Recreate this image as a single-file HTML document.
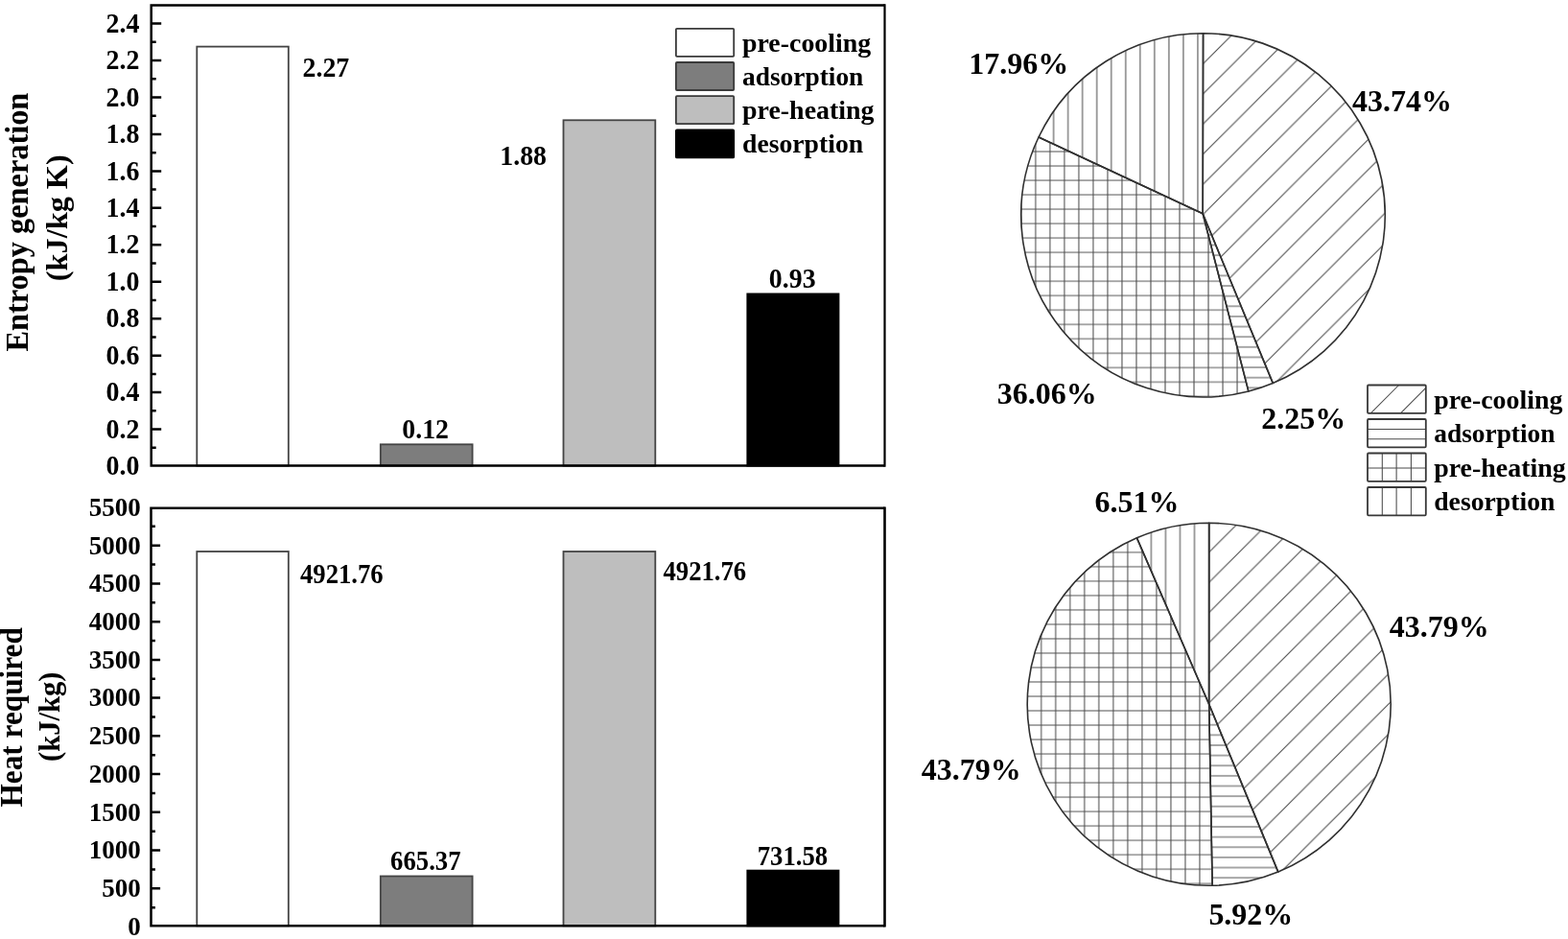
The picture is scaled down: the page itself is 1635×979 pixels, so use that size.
<!DOCTYPE html>
<html lang="en"><head><meta charset="utf-8"><title>Entropy generation and heat required</title>
<style>
html,body{margin:0;padding:0;background:#fff;}
body{width:1635px;height:979px;overflow:hidden;}
svg{display:block;}
</style></head><body>
<svg width="1635" height="979" viewBox="0 0 1635 979" font-family='"Liberation Serif", serif' font-weight="bold" fill="#000">
<defs>
<pattern id="hDiag1" patternUnits="userSpaceOnUse" width="31.4" height="31.4" patternTransform="translate(1321 0)">
<path d="M-2 2 L2 -2 M-2 33.4 L33.4 -2 M29.4 33.4 L33.4 29.4" stroke="#4a4a4a" stroke-width="1.05" fill="none"/>
</pattern>
<pattern id="hHor1" patternUnits="userSpaceOnUse" width="20" height="10.63" patternTransform="translate(0 287.4)">
<path d="M0 0 H20 M0 10.63 H20" stroke="#4a4a4a" stroke-width="1.05"/>
</pattern>
<pattern id="hGrid1" patternUnits="userSpaceOnUse" width="15.02" height="15.02" patternTransform="translate(1079.8 203.1)">
<path d="M0 0 H15.02 M0 15.02 H15.02 M0 0 V15.02 M15.02 0 V15.02" stroke="#4a4a4a" stroke-width="1.05" fill="none"/>
</pattern>
<pattern id="hVer1" patternUnits="userSpaceOnUse" width="15.03" height="20" patternTransform="translate(1248.9 0)">
<path d="M0 0 V20 M15.03 0 V20" stroke="#4a4a4a" stroke-width="1.05"/>
</pattern>
<pattern id="hDiag2" patternUnits="userSpaceOnUse" width="31.4" height="31.4" patternTransform="translate(1334.1 0)">
<path d="M-2 2 L2 -2 M-2 33.4 L33.4 -2 M29.4 33.4 L33.4 29.4" stroke="#4a4a4a" stroke-width="1.05" fill="none"/>
</pattern>
<pattern id="hHor2" patternUnits="userSpaceOnUse" width="20" height="10.63" patternTransform="translate(0 288.0)">
<path d="M0 0 H20 M0 10.63 H20" stroke="#4a4a4a" stroke-width="1.05"/>
</pattern>
<pattern id="hGrid2" patternUnits="userSpaceOnUse" width="15.02" height="15.02" patternTransform="translate(1085.7 200.3)">
<path d="M0 0 H15.02 M0 15.02 H15.02 M0 0 V15.02 M15.02 0 V15.02" stroke="#4a4a4a" stroke-width="1.05" fill="none"/>
</pattern>
<pattern id="hVer2" patternUnits="userSpaceOnUse" width="15.03" height="20" patternTransform="translate(1245.5 0)">
<path d="M0 0 V20 M15.03 0 V20" stroke="#4a4a4a" stroke-width="1.05"/>
</pattern>
</defs>
<rect width="1635" height="979" fill="#fff"/>
<rect x="205.30" y="48.60" width="95.50" height="437.00" fill="#ffffff" stroke="#444" stroke-width="1.8"/>
<rect x="396.80" y="463.30" width="95.80" height="22.30" fill="#7d7d7d" stroke="#444" stroke-width="1.8"/>
<rect x="587.50" y="125.30" width="95.80" height="360.30" fill="#bebebe" stroke="#444" stroke-width="1.8"/>
<rect x="779.30" y="306.40" width="95.20" height="179.20" fill="#000000" stroke="#000" stroke-width="1.8"/>
<path d="M922.5 5.6H157.7V485.6H922.5" fill="none" stroke="#000" stroke-width="2.5" stroke-linejoin="miter"/>
<path d="M922.5 4.35V486.85" fill="none" stroke="#000" stroke-width="2.2"/>
<path d="M157.7 466.77h5.0M157.7 447.55h10.5M157.7 428.32h5.0M157.7 409.10h10.5M157.7 389.88h5.0M157.7 370.65h10.5M157.7 351.42h5.0M157.7 332.20h10.5M157.7 312.97h5.0M157.7 293.75h10.5M157.7 274.52h5.0M157.7 255.30h10.5M157.7 236.07h5.0M157.7 216.85h10.5M157.7 197.62h5.0M157.7 178.40h10.5M157.7 159.17h5.0M157.7 139.95h10.5M157.7 120.72h5.0M157.7 101.50h10.5M157.7 82.28h5.0M157.7 63.05h10.5M157.7 43.82h5.0M157.7 24.60h10.5" stroke="#000" stroke-width="2.5" fill="none"/>
<text transform="translate(145.40 495.10) scale(0.925 1)" font-size="30.2" text-anchor="end">0.0</text>
<text transform="translate(145.40 456.65) scale(0.925 1)" font-size="30.2" text-anchor="end">0.2</text>
<text transform="translate(145.40 418.20) scale(0.925 1)" font-size="30.2" text-anchor="end">0.4</text>
<text transform="translate(145.40 379.75) scale(0.925 1)" font-size="30.2" text-anchor="end">0.6</text>
<text transform="translate(145.40 341.30) scale(0.925 1)" font-size="30.2" text-anchor="end">0.8</text>
<text transform="translate(145.40 302.85) scale(0.925 1)" font-size="30.2" text-anchor="end">1.0</text>
<text transform="translate(145.40 264.40) scale(0.925 1)" font-size="30.2" text-anchor="end">1.2</text>
<text transform="translate(145.40 225.95) scale(0.925 1)" font-size="30.2" text-anchor="end">1.4</text>
<text transform="translate(145.40 187.50) scale(0.925 1)" font-size="30.2" text-anchor="end">1.6</text>
<text transform="translate(145.40 149.05) scale(0.925 1)" font-size="30.2" text-anchor="end">1.8</text>
<text transform="translate(145.40 110.60) scale(0.925 1)" font-size="30.2" text-anchor="end">2.0</text>
<text transform="translate(145.40 72.15) scale(0.925 1)" font-size="30.2" text-anchor="end">2.2</text>
<text transform="translate(145.40 33.70) scale(0.925 1)" font-size="30.2" text-anchor="end">2.4</text>
<text transform="translate(315.60 80.30) scale(0.94 1)" font-size="29.6">2.27</text>
<text transform="translate(443.60 457.00) scale(0.94 1)" font-size="29.6" text-anchor="middle">0.12</text>
<text transform="translate(570.00 171.60) scale(0.94 1)" font-size="29.6" text-anchor="end">1.88</text>
<text transform="translate(826.20 300.10) scale(0.94 1)" font-size="29.6" text-anchor="middle">0.93</text>
<rect x="205.30" y="575.00" width="95.50" height="390.30" fill="#ffffff" stroke="#444" stroke-width="1.8"/>
<rect x="396.80" y="913.50" width="95.80" height="51.80" fill="#7d7d7d" stroke="#444" stroke-width="1.8"/>
<rect x="587.50" y="575.00" width="95.80" height="390.30" fill="#bebebe" stroke="#444" stroke-width="1.8"/>
<rect x="779.30" y="907.60" width="95.20" height="57.70" fill="#000000" stroke="#000" stroke-width="1.8"/>
<path d="M922.5 529.8H157.5V965.3H922.5" fill="none" stroke="#000" stroke-width="2.5" stroke-linejoin="miter"/>
<path d="M922.5 528.55V966.55" fill="none" stroke="#000" stroke-width="2.6"/>
<path d="M157.5 946.13h4.4M157.5 926.27h9.6M157.5 906.40h4.4M157.5 886.54h9.6M157.5 866.67h4.4M157.5 846.81h9.6M157.5 826.94h4.4M157.5 807.08h9.6M157.5 787.22h4.4M157.5 767.35h9.6M157.5 747.49h4.4M157.5 727.62h9.6M157.5 707.75h4.4M157.5 687.89h9.6M157.5 668.03h4.4M157.5 648.16h9.6M157.5 628.30h4.4M157.5 608.43h9.6M157.5 588.57h4.4M157.5 568.70h9.6M157.5 548.84h4.4" stroke="#000" stroke-width="2.5" fill="none"/>
<text transform="translate(146.70 974.80) scale(0.955 1)" font-size="28.3" text-anchor="end">0</text>
<text transform="translate(146.70 935.07) scale(0.955 1)" font-size="28.3" text-anchor="end">500</text>
<text transform="translate(146.70 895.34) scale(0.955 1)" font-size="28.3" text-anchor="end">1000</text>
<text transform="translate(146.70 855.61) scale(0.955 1)" font-size="28.3" text-anchor="end">1500</text>
<text transform="translate(146.70 815.88) scale(0.955 1)" font-size="28.3" text-anchor="end">2000</text>
<text transform="translate(146.70 776.15) scale(0.955 1)" font-size="28.3" text-anchor="end">2500</text>
<text transform="translate(146.70 736.42) scale(0.955 1)" font-size="28.3" text-anchor="end">3000</text>
<text transform="translate(146.70 696.69) scale(0.955 1)" font-size="28.3" text-anchor="end">3500</text>
<text transform="translate(146.70 656.96) scale(0.955 1)" font-size="28.3" text-anchor="end">4000</text>
<text transform="translate(146.70 617.23) scale(0.955 1)" font-size="28.3" text-anchor="end">4500</text>
<text transform="translate(146.70 577.50) scale(0.955 1)" font-size="28.3" text-anchor="end">5000</text>
<text transform="translate(146.70 537.77) scale(0.955 1)" font-size="28.3" text-anchor="end">5500</text>
<text transform="translate(313.00 607.50) scale(0.93 1)" font-size="28.7">4921.76</text>
<text transform="translate(443.80 907.40) scale(0.93 1)" font-size="28.7" text-anchor="middle">665.37</text>
<text transform="translate(691.50 605.30) scale(0.93 1)" font-size="28.7">4921.76</text>
<text transform="translate(826.40 902.00) scale(0.93 1)" font-size="28.7" text-anchor="middle">731.58</text>
<text transform="translate(29.40 231.60) rotate(-90) scale(0.955 1)" font-size="33.9" text-anchor="middle">Entropy generation</text>
<text transform="translate(70.30 227.20) rotate(-90)" font-size="32.3" text-anchor="middle">(kJ/kg K)</text>
<text transform="translate(22.60 747.80) rotate(-90) scale(0.942 1)" font-size="33.2" text-anchor="middle">Heat required</text>
<text transform="translate(62.00 747.30) rotate(-90)" font-size="30.5" text-anchor="middle">(kJ/kg)</text>
<rect x="704.9" y="29.8" width="60.3" height="29" rx="1" fill="#ffffff" stroke="#3a3a3a" stroke-width="1.8"/>
<text transform="translate(774.00 53.60) scale(1.018 1)" font-size="27.4">pre-cooling</text>
<rect x="704.9" y="65.0" width="60.3" height="29" rx="1" fill="#7d7d7d" stroke="#3a3a3a" stroke-width="1.8"/>
<text transform="translate(774.00 88.80)" font-size="27.4">adsorption</text>
<rect x="704.9" y="100.2" width="60.3" height="29" rx="1" fill="#bebebe" stroke="#3a3a3a" stroke-width="1.8"/>
<text transform="translate(774.00 124.00) scale(1.02 1)" font-size="27.4">pre-heating</text>
<rect x="704.9" y="135.4" width="60.3" height="29" rx="1" fill="#000000" stroke="#000" stroke-width="1.8"/>
<text transform="translate(774.00 159.20) scale(1.011 1)" font-size="27.4">desorption</text>
<path d="M1254.2 222.8L1254.50 34.70A189.8 189.6 0 0 1 1327.24 399.42Z" fill="url(#hDiag1)" stroke="#303030" stroke-width="1.6" stroke-linejoin="round"/>
<path d="M1254.2 222.8L1327.24 399.42A189.8 189.6 0 0 1 1301.82 407.91Z" fill="url(#hHor1)" stroke="#303030" stroke-width="1.6" stroke-linejoin="round"/>
<path d="M1254.2 222.8L1301.82 407.91A189.8 189.6 0 0 1 1083.02 143.03Z" fill="url(#hGrid1)" stroke="#303030" stroke-width="1.6" stroke-linejoin="round"/>
<path d="M1254.2 222.8L1083.02 143.03A189.8 189.6 0 0 1 1254.62 34.70Z" fill="url(#hVer1)" stroke="#303030" stroke-width="1.6" stroke-linejoin="round"/>
<text transform="translate(1410.10 116.00) scale(0.98 1)" font-size="32.6">43.74%</text>
<text transform="translate(1315.30 446.50) scale(0.98 1)" font-size="32.6">2.25%</text>
<text transform="translate(1039.80 421.00) scale(0.98 1)" font-size="32.6">36.06%</text>
<text transform="translate(1010.30 76.80) scale(0.98 1)" font-size="32.6">17.96%</text>
<path d="M1260.7 734.3L1260.70 545.30A189.5 189.0 0 0 1 1332.78 909.09Z" fill="url(#hDiag2)" stroke="#303030" stroke-width="1.6" stroke-linejoin="round"/>
<path d="M1260.7 734.3L1332.78 909.09A189.5 189.0 0 0 1 1264.15 923.27Z" fill="url(#hHor2)" stroke="#303030" stroke-width="1.6" stroke-linejoin="round"/>
<path d="M1260.7 734.3L1264.15 923.27A189.5 189.0 0 0 1 1185.44 560.84Z" fill="url(#hGrid2)" stroke="#303030" stroke-width="1.6" stroke-linejoin="round"/>
<path d="M1260.7 734.3L1185.44 560.84A189.5 189.0 0 0 1 1260.82 545.30Z" fill="url(#hVer2)" stroke="#303030" stroke-width="1.6" stroke-linejoin="round"/>
<text transform="translate(1448.80 663.60) scale(0.98 1)" font-size="32.6">43.79%</text>
<text transform="translate(1260.40 963.80) scale(0.98 1)" font-size="32.6">5.92%</text>
<text transform="translate(960.80 812.70) scale(0.98 1)" font-size="32.6">43.79%</text>
<text transform="translate(1141.60 534.40) scale(0.98 1)" font-size="32.6">6.51%</text>
<path d="M1429.3 430.8L1458.6 401.5M1460.4 430.8L1486.8 404.4" stroke="#4a4a4a" stroke-width="1.05" fill="none"/>
<rect x="1426.0" y="401.50" width="60.8" height="29.3" rx="1" fill="none" stroke="#383838" stroke-width="1.8"/>
<text transform="translate(1495.20 425.80) scale(1.018 1)" font-size="27.4">pre-cooling</text>
<path d="M1426.0 447.5h60.8M1426.0 457.8h60.8" stroke="#4a4a4a" stroke-width="1.05" fill="none"/>
<rect x="1426.0" y="437.00" width="60.8" height="29.3" rx="1" fill="none" stroke="#383838" stroke-width="1.8"/>
<text transform="translate(1495.20 461.30)" font-size="27.4">adsorption</text>
<path d="M1441.3 472.5v29.3M1456.1 472.5v29.3M1471.4 472.5v29.3M1426.0 487.9h60.8" stroke="#4a4a4a" stroke-width="1.05" fill="none"/>
<rect x="1426.0" y="472.50" width="60.8" height="29.3" rx="1" fill="none" stroke="#383838" stroke-width="1.8"/>
<text transform="translate(1495.20 496.80) scale(1.02 1)" font-size="27.4">pre-heating</text>
<path d="M1441.3 508.0v29.3M1456.1 508.0v29.3M1471.4 508.0v29.3" stroke="#4a4a4a" stroke-width="1.05" fill="none"/>
<rect x="1426.0" y="508.00" width="60.8" height="29.3" rx="1" fill="none" stroke="#383838" stroke-width="1.8"/>
<text transform="translate(1495.20 532.30) scale(1.011 1)" font-size="27.4">desorption</text>
</svg>
</body></html>
